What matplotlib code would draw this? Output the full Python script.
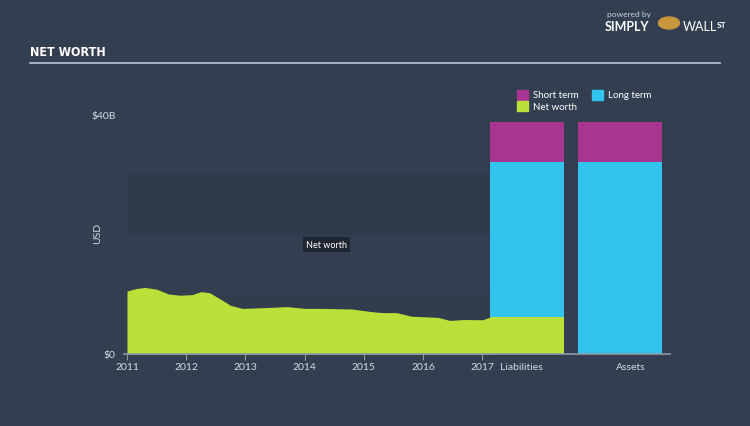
import numpy as np
import matplotlib
matplotlib.use("Agg")
import matplotlib.pyplot as plt

# net worth history (USD billions)
years = [2011.0, 2011.15, 2011.3, 2011.5, 2011.7, 2011.9, 2012.1, 2012.25, 2012.4,
         2012.55, 2012.75, 2012.95, 2013.25, 2013.7, 2014.0, 2014.3, 2014.8, 2015.1,
         2015.3, 2015.55, 2015.8, 2016.25, 2016.45, 2016.7, 2017.0, 2017.14]
net_worth = [10.5, 10.9, 11.1, 10.8, 10.0, 9.8, 9.9, 10.4, 10.2,
             9.3, 8.1, 7.6, 7.7, 7.9, 7.6, 7.6, 7.5, 7.1,
             6.9, 6.9, 6.3, 6.1, 5.6, 5.75, 5.7, 6.17]

# balance sheet bars (USD billions)
bar_names = ["Liabilities", "Assets"]
bar_net = [6.2, 0.0]
bar_long = [25.8, 32.0]
bar_short = [6.7, 6.7]

year_ticks = [2011, 2012, 2013, 2014, 2015, 2016, 2017]

BG = "#333f50"
LIME = "#bcdf39"
CYAN = "#33c4ee"
MAGENTA = "#a83590"
TXT = "#d3d9e0"

plt.rcParams['font.family'] = ['Lato', 'DejaVu Sans']

fig = plt.figure(figsize=(7.5, 4.27), dpi=100)
fig.patch.set_facecolor(BG)

ax = fig.add_axes([127 / 750, 72 / 427, 543 / 750, 270 / 427])
ax.set_facecolor(BG)
ax.set_xlim(2011, 2020.17)
ax.set_ylim(0, 45)

# subtle bands behind the history
ax.axhspan(20, 30, xmin=-0.006, xmax=(2017.14 - 2011) / 9.17, color="#2f3b4a", zorder=0)
ax.axhspan(0, 10, xmin=-0.006, xmax=(2017.14 - 2011) / 9.17, color="#313d4c", zorder=0)

ax.fill_between(years, 0, net_worth, color=LIME, lw=0, zorder=2)

bar_x = [2017.76, 2019.325]
bar_w = [1.245, 1.41]
ax.bar(bar_x, bar_net, width=bar_w, color=LIME, zorder=2)
ax.bar(bar_x, bar_long, width=bar_w, bottom=bar_net, color=CYAN, zorder=2)
ax.bar(bar_x, bar_short, width=bar_w, bottom=np.add(bar_net, bar_long), color=MAGENTA, zorder=2)

for s in ["top", "right", "left"]:
    ax.spines[s].set_visible(False)
ax.spines["bottom"].set_color("#8d98a6")
ax.spines["bottom"].set_linewidth(1.2)
ax.spines["bottom"].set_bounds(2010.95, 2020.17)

ax.set_xticks(year_ticks)
ax.set_xticklabels([str(y) for y in year_ticks])
ax.tick_params(axis="x", colors="#8d98a6", labelcolor=TXT, labelsize=7.5, length=4, pad=2)
# category labels under the bars
ax.set_xticks([2017.66, 2019.5], bar_names, minor=True)
ax.tick_params(axis="x", which="minor", length=0, labelcolor=TXT, labelsize=7.5, pad=6)

ax.set_yticks([0, 40])
ax.set_yticklabels(["$0", "$40B"])
ax.tick_params(axis="y", length=0, labelcolor=TXT, labelsize=7.5, pad=8)
ax.set_ylabel("USD", color=TXT, fontsize=7.5, labelpad=8)
ax.yaxis.set_label_coords(-0.045, 0.45)

ax.text(2014.37, 18.2, "Net worth", color="white", fontsize=6.5, ha="center", va="center",
        bbox=dict(boxstyle="square,pad=0.35", fc="#1f2631", ec="none"), zorder=5)

# legend
def legend_item(x, y, color, label):
    fig.patches.append(plt.Rectangle((x / 750, 1 - (y + 5) / 427), 11 / 750, 10 / 427,
                                     transform=fig.transFigure, color=color))
    fig.text((x + 16) / 750, 1 - y / 427, label, color="white", fontsize=7, va="center")

legend_item(517, 96, MAGENTA, "Short term")
legend_item(592, 96, CYAN, "Long term")
legend_item(517, 107, LIME, "Net worth")

# title and rule
fig.text(30 / 750, 1 - 53 / 427, "NET WORTH", color="white", fontsize=9, fontweight="bold",
         family=["DejaVu Sans"], fontstretch="condensed", va="center")
fig.add_artist(plt.Line2D([30 / 750, 720 / 750], [1 - 64 / 427, 1 - 64 / 427],
                          color="#b8c4d2", lw=1.2))

# branding
fig.text(607 / 750, 1 - 14 / 427, "powered by", color="#c8ced6", fontsize=6, va="center")
fig.text(605 / 750, 1 - 27 / 427, "SIMPLY", color="white", fontsize=9, fontweight="bold", va="center")
fig.text(683 / 750, 1 - 27 / 427, "WALL", color="white", fontsize=9, va="center")
fig.text(717 / 750, 1 - 25 / 427, "ST", color="white", fontsize=6, fontweight="bold", va="center")
fig.patches.append(plt.Circle((669 / 750, 1 - 24 / 427), 0.014, transform=fig.transFigure,
                              color="#c8963c"))

fig.savefig("out.png", dpi=100, facecolor=BG)
